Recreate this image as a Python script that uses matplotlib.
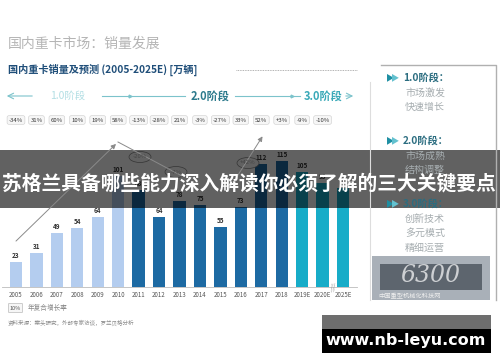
import matplotlib
matplotlib.use("Agg")
from matplotlib import pyplot as plt
from matplotlib.patches import Rectangle, Ellipse, FancyBboxPatch
import matplotlib.transforms as mtransforms

plt.rcParams['font.family'] = ['Noto Sans CJK SC', 'DejaVu Sans']

years = ['2005', '2006', '2007', '2008', '2009', '2010', '2011', '2012', '2013',
         '2014', '2015', '2016', '2017', '2018', '2019E', '2020E', '2025E']
sales = [23, 31, 49, 54, 64, 101, 88, 64, 78, 75, 55, 73, 112, 115, 105, 95, 90]
growth = ['-34%', '31%', '60%', '10%', '19%', '58%', '-13%', '-28%', '21%', '-3%',
          '-27%', '33%', '52%', '+3%', '-9%', '-10%']
stage_of_year = [1] * 6 + [2] * 8 + [3] * 3
stage_colors = {1: '#b4cdef', 2: '#1d6aa3', 3: '#17acc8'}

panel_stages = ['1.0阶段：', '2.0阶段：', '3.0阶段：']
panel_items = [['市场激发', '快速增长'], ['市场成熟', '结构调整'], ['创新技术', '多元模式', '精细运营']]

W, H = 500, 362
fig = plt.figure(figsize=(W / 100, H / 100), dpi=100)

# bar chart axes, positioned in pixels
px_per_bar = 20.44
left_px = 16 - 0.7 * px_per_bar
right_px = 343 + 0.7 * px_per_bar
base_px, top_px = 287, 130
ax = fig.add_axes([left_px / W, (H - base_px) / H, (right_px - left_px) / W, (base_px - top_px) / H])
ax.set_xlim(-0.7, len(years) - 0.3)
ax.set_ylim(0, (base_px - top_px) / 1.1)
for s in ['top', 'right', 'left']:
    ax.spines[s].set_visible(False)
ax.spines['bottom'].set_color('#bbbbbb')
ax.spines['bottom'].set_linewidth(0.6)
ax.set_yticks([])
x = list(range(len(years)))
ax.bar(x, sales, width=0.6, color=[stage_colors[s] for s in stage_of_year])
for i, v in enumerate(sales):
    ax.text(i, v + 2.5, str(v), ha='center', va='bottom', fontsize=4.6,
            color='#333333', fontweight='bold')
ax.set_xticks(x)
ax.set_xticklabels(years, fontsize=4.4, color='#555555')
ax.tick_params(axis='x', length=0, pad=3)

# growth rate boxes
trans = mtransforms.blended_transform_factory(ax.transData, fig.transFigure)
for i, g in enumerate(growth):
    ax.text(i, (H - 120) / H, g, transform=trans, ha='center', va='center', fontsize=4.3,
            color='#333333', clip_on=False,
            bbox=dict(boxstyle='round,pad=0.3,rounding_size=0.3', fc='#f6f6f6',
                      ec='#cccccc', lw=0.4))

# overlay axes in pixel coordinates
ov = fig.add_axes([0, 0, 1, 1], zorder=5)
ov.set_xlim(0, W)
ov.set_ylim(H, 0)
ov.axis('off')
ov.patch.set_alpha(0)

ov.text(8, 44, '国内重卡市场：销量发展', fontsize=10, color='#b5b5b5', va='center')
ov.text(8, 70, '国内重卡销量及预测 (2005-2025E) [万辆]', fontsize=7.3, color='#1f4e79',
        fontweight='bold', va='center')
ov.plot([236, 357], [70, 70], ls=(0, (1, 1)), color='#999999', lw=0.6)

# stage row
line_c = '#7cc3cb'
ov.annotate('', xy=(4, 96), xytext=(35, 96),
            arrowprops=dict(arrowstyle='->', color=line_c, lw=0.8))
ov.text(68, 96, '1.0阶段', fontsize=7.5, color='#b3dfe4', ha='center', va='center')
ov.plot([102, 185], [96, 96], color=line_c, lw=0.8)
ov.plot([130], [96], marker='>', ms=2, color=line_c)
ov.text(210, 96, '2.0阶段', fontsize=8, color='#2c7a8c', ha='center', va='center',
        fontweight='bold')
ov.plot([235, 300], [96, 96], color=line_c, lw=0.8)
ov.plot([292], [96], marker='>', ms=2, color=line_c)
ov.text(323, 96, '3.0阶段', fontsize=8, color='#3aa9b8', ha='center', va='center',
        fontweight='bold')
ov.annotate('', xy=(356, 96), xytext=(343, 96),
            arrowprops=dict(arrowstyle='->', color=line_c, lw=0.8))

# trend arrows
arr = dict(arrowstyle='-|>', color='#8a8a8a', lw=0.7, mutation_scale=7)
ov.annotate('', xy=(118, 142), xytext=(14, 243), arrowprops=arr)
ov.plot([118, 182], [142, 176], color='#8a8a8a', lw=0.7)
ov.annotate('', xy=(264, 134), xytext=(226, 194), arrowprops=arr)
for cx, cy, t in [(140, 157, '-20%'), (176, 172, '-7%'), (248, 163, '+42%')]:
    ov.add_patch(Ellipse((cx, cy), 22, 11, fc='white', ec='#888888', lw=0.5))
    ov.text(cx, cy, t, fontsize=4.3, ha='center', va='center', color='#444444')

# axis break
ov.text(333, 287, '//', fontsize=6, color='#999999', ha='center', va='center', rotation=10)

# legend and source
ov.add_patch(FancyBboxPatch((9, 304), 13, 8, boxstyle='round,pad=0.5', fc='#f6f6f6',
                            ec='#aaaaaa', lw=0.4))
ov.text(15.5, 308, '10%', fontsize=4, ha='center', va='center', color='#555555')
ov.text(28, 308, '年复合增长率', fontsize=4.8, va='center', color='#888888')
ov.text(8, 323, '资料来源：案头研究，外部专家访谈，罗兰贝格分析', fontsize=4, va='center',
        color='#8a8a8a')

# right panel
ov.plot([370, 370], [82, 300], color='#dddddd', lw=0.8)
ov.plot([381, 496, 496], [65, 65, 300], color='#b0b0b0', lw=1)
ys = [78, 141, 204]
for y0, st, items in zip(ys, panel_stages, panel_items):
    ov.text(386, y0, '▶', fontsize=6, color='#1e8fa3', va='center', ha='left')
    ov.text(391, y0, '▶', fontsize=6, color='#63c1cf', va='center', ha='left')
    ov.text(403, y0, st, fontsize=7.3, color='#2b6d80', fontweight='bold', va='center')
    for k, it in enumerate(items):
        ov.text(405, y0 + 14.5 * (k + 1), it, fontsize=7.2, color='#a6adb0', va='center')

# photo block
ov.add_patch(Rectangle((372, 256), 118, 44, fc='#a9b0b8', ec='none'))
ov.add_patch(Rectangle((380, 264), 102, 26, fc='#4a525c', ec='none', alpha=0.8))
ov.text(430, 276, '6300', fontsize=17, color='white', alpha=0.7, style='italic',
        ha='center', va='center', family='DejaVu Serif')
ov.text(378, 296, '中国重型机械化科技网', fontsize=4.5, color='#eeeeee', va='center')

# dark banner
ov.add_patch(Rectangle((0, 150), W, 58, fc='black', alpha=0.62, ec='none'))
ov.text(2, 184, '苏格兰具备哪些能力深入解读你必须了解的三大关键要点', fontsize=14.2,
        color='white', fontweight='bold', va='center', ha='left')

# site watermark
ov.add_patch(Rectangle((322, 315), 169, 14, fc='#6e6e6e', ec='none'))
ov.add_patch(Rectangle((322, 329), 169, 24, fc='black', ec='none'))
ov.text(406, 340, 'www.nb-leyu.com', fontsize=11.5, color='white', fontweight='bold',
        ha='center', va='center', family='DejaVu Sans')

fig.savefig('out.png', dpi=100)
